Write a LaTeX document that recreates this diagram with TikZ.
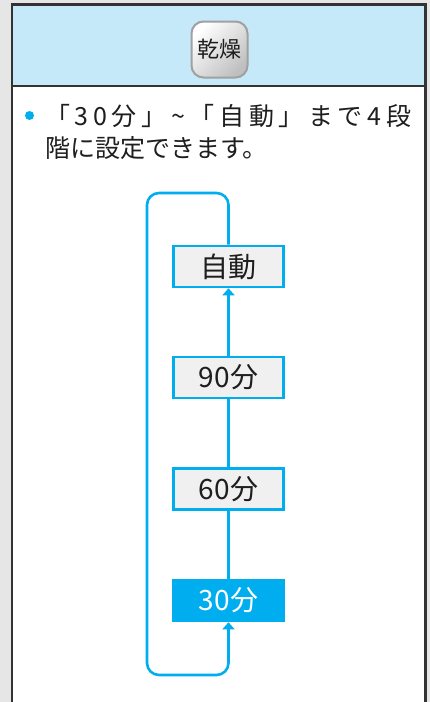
\documentclass[tikz,border=0pt]{standalone}
\usepackage{fontspec}
\setmainfont{Noto Sans CJK JP}
\usetikzlibrary{arrows.meta,shadings}
\definecolor{bggray}{HTML}{E6E6E6}
\definecolor{headblue}{HTML}{C6E9F9}
\definecolor{framegray}{HTML}{333333}
\definecolor{cyanline}{HTML}{00AEEF}
\definecolor{boxfill}{HTML}{F0F0F0}
\definecolor{btnborder}{HTML}{A0A0A0}
\definecolor{txt}{HTML}{1E1E1E}
\tikzset{
  flow/.style={draw=cyanline, line width=2.6pt},
  tip/.style={-{Triangle[width=12pt,length=7pt]}},
  stepbox/.style={draw=cyanline, line width=2.6pt, fill=boxfill, minimum width=110pt, minimum height=41pt, inner sep=0pt, text=txt, font=\fontsize{28}{32}\selectfont},
  activebox/.style={stepbox, fill=cyanline, text=white},
  button/.style={draw=btnborder, line width=2pt, rounded corners=12pt, minimum width=56pt, minimum height=56pt, inner sep=0pt, top color=white, bottom color=black!25, shading angle=45, text=txt, font=\fontsize{22}{26}\selectfont},
  bodytext/.style={inner sep=0pt, anchor=west, text=txt, font=\fontsize{25}{30}\selectfont},
  bulletdot/.style={circle, fill=cyanline, minimum size=9pt, inner sep=0pt}
}
\begin{document}
\begin{tikzpicture}[x=1pt,y=-1pt]
\useasboundingbox (0,0) rectangle (430,702);
\fill[bggray] (0,0) rectangle (430,702);
\fill[headblue] (12,4.5) rectangle (425.5,86);
\fill[white] (12,86) rectangle (425.5,702);
\draw[framegray, line width=1.8pt] (12,86) -- (425.5,86);
\draw[framegray, line width=2.2pt] (12,702) -- (12,4.5) -- (425.5,4.5) -- (425.5,702);

\node[button] (btn) at (219.5,49.5) {乾燥};

\node[bulletdot] (dot) at (29.5,115.5) {};
\node[bodytext] (line1) at (45,116) {\hbox to 366pt{「\hfill 3\hfill 0\hfill 分\hfill 」\hfill \textasciitilde\hfill 「\hfill 自\hfill 動\hfill 」\hfill ま\hfill で\hfill 4\hfill 段}};
\node[bodytext] (line2) at (45,148.5) {階に設定できます。};

\node[stepbox] (auto) at (228.5,266.5) {自動};
\node[stepbox] (b90) at (228.5,377.5) {90分};
\node[stepbox] (b60) at (228.5,489) {60分};
\node[activebox] (b30) at (228.5,600.5) {30分};

\coordinate (tl) at (147,193);
\coordinate (bl) at (147,675);

\draw[flow] (b30.north) -- (b60.south);
\draw[flow] (b60.north) -- (b90.south);
\draw[flow, tip] (b90.north) -- (auto.south);
\draw[flow, tip, rounded corners=12pt] (auto.north) |- (tl) -- (bl) -| (b30.south);
\end{tikzpicture}
\end{document}
